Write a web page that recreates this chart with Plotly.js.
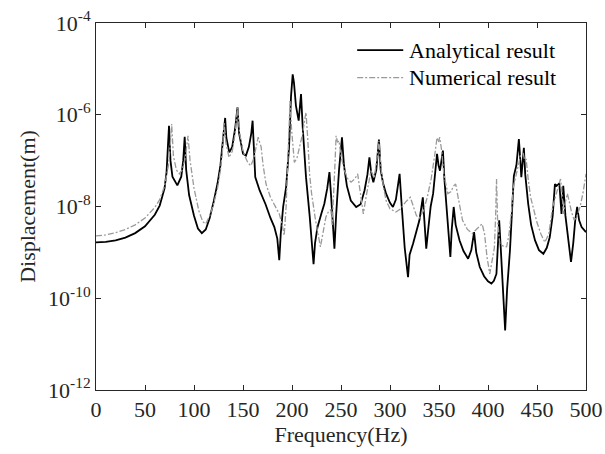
<!DOCTYPE html>
<html>
<head>
<meta charset="utf-8">
<script src="https://cdn.plot.ly/plotly-3.0.1.min.js"></script>
<style>html,body{margin:0;padding:0;background:#fff;}#chart{width:605px;height:454px;}</style>
</head>
<body>
<div id="chart"></div>
<script>
// Frequency (Hz) and log10 of displacement (m)
const freqAnalytical = [0,10,20,30,40,50,60,65,70,72,74.5,76,78,83,87,89,90.5,92,95,100,104,108,112,116,120,124,127,129.5,131.8,133,136,139,142,144.4,146,150,153,156,158.5,159.8,161,162.5,167,173,178,182,185,187,188.5,191,194,197,199,200.7,202,204,206.8,208,209.2,211,214.3,218,220.5,222,223.5,226,230,233,236,238.2,240,243.3,245,248,251,253,256,260,265.5,270,274,277,279,281,283,286,288.7,290.5,293,296,300,303,306,308,309.8,312,315,318.4,320,323.5,327,330,333.5,335,337,339,341.5,344,346,348,349.5,351,352.5,354,355.5,357.5,359.5,361.6,363,365,367,371,375,379.7,383,385.8,388,391.6,396,400,403.5,406,408.6,410,411.4,413,415,417.5,419.5,422.4,424.5,426.4,429,431.5,433,434,435.5,436.6,438,441,444,448,452,456.5,460,463,466,468.3,470,472.8,475,476.8,479,482,484.7,487,489,491,493,495.5,500];
const logDispAnalytical = [-8.78,-8.77,-8.74,-8.68,-8.58,-8.43,-8.18,-7.98,-7.6,-7.25,-6.24,-7.0,-7.35,-7.54,-7.35,-7.0,-6.48,-7.2,-7.75,-8.2,-8.48,-8.58,-8.5,-8.25,-7.9,-7.5,-7.1,-6.6,-6.07,-6.5,-6.82,-6.7,-6.3,-5.84,-6.4,-6.85,-6.89,-6.7,-6.4,-6.13,-6.8,-7.36,-7.65,-7.95,-8.25,-8.45,-8.7,-9.17,-8.6,-8.0,-7.58,-6.7,-5.6,-5.12,-5.3,-5.8,-6.13,-5.9,-5.55,-6.3,-7.36,-8.2,-8.8,-9.26,-8.8,-8.45,-8.15,-7.94,-7.6,-7.25,-7.8,-8.92,-8.2,-7.2,-6.49,-7.1,-7.55,-7.87,-8.01,-7.95,-7.65,-7.3,-6.93,-7.3,-7.47,-7.2,-6.54,-7.2,-7.5,-7.72,-7.92,-8.01,-7.85,-7.6,-7.29,-8.0,-8.9,-9.54,-9.05,-8.81,-8.5,-8.3,-7.8,-8.4,-8.92,-8.5,-8.0,-7.72,-7.3,-6.85,-7.1,-7.22,-7.0,-6.78,-7.4,-7.94,-8.6,-9.1,-8.5,-8.01,-8.4,-8.74,-8.97,-9.14,-8.95,-8.56,-9.0,-9.32,-9.52,-9.63,-9.68,-9.62,-9.47,-9.0,-8.3,-8.9,-9.6,-10.7,-9.8,-8.96,-8.1,-7.33,-7.1,-6.53,-7.0,-7.36,-7.0,-6.72,-7.3,-7.94,-8.4,-8.74,-8.95,-9.03,-8.9,-8.67,-8.2,-7.51,-7.55,-7.5,-8.16,-7.55,-8.2,-8.8,-9.21,-8.8,-8.3,-8.01,-8.3,-8.45,-8.56];

const freqNumerical = [0,10,20,30,40,50,60,65,70,74,76,77.2,79,82,85,88,91,93.9,96,100,105,109,112,116,120,124,127,129,130.7,132.5,135.7,139,142,144.4,146.5,150,155,158,161,163.5,165.5,167,168.5,170.5,173.5,178,183,187,190,192,194,196,197.2,198,199.5,202.4,205,208,211,213,214.3,216,218,220,224,229,232,234.6,237.5,239.7,241,242.5,244,245,246.5,248,250,253.6,257,260.3,264,267,270,272.8,275.5,278,280.6,284,286.5,288.7,291,293.5,296,300,306,311,316,320.7,324,327,330,334,338,342,345.5,348,349.5,350.7,352.5,355,359,362,365,367,369.5,374,379,384,388,391.5,394,396.5,399,401.8,404,406.5,407.8,408.7,409.8,412,416,419,421.5,424,425.8,428,431,433,436,437.5,439,441,443.5,446,450,454,458,462,466,470,474,475.5,477,479,481,483,485,488,491,494,497,500];
const logDispNumerical = [-8.64,-8.62,-8.57,-8.5,-8.4,-8.25,-8.02,-7.85,-7.55,-7.1,-6.6,-6.2,-6.9,-7.2,-7.29,-7.2,-6.95,-6.46,-7.0,-7.6,-8.1,-8.33,-8.38,-8.2,-7.95,-7.6,-7.2,-6.8,-6.17,-6.6,-6.93,-6.8,-6.4,-5.84,-6.4,-6.8,-7.05,-7.11,-6.95,-6.7,-6.49,-6.6,-6.7,-7.1,-7.51,-7.8,-8.0,-8.16,-8.4,-8.63,-8.0,-7.0,-6.2,-5.7,-6.3,-7.04,-6.95,-6.7,-6.4,-6.1,-5.95,-6.5,-7.3,-7.72,-8.3,-8.88,-8.5,-8.23,-8.1,-8.07,-8.4,-7.8,-7.0,-6.46,-6.6,-6.57,-6.9,-7.22,-7.4,-7.47,-7.4,-7.29,-7.7,-8.16,-7.8,-7.5,-7.22,-7.36,-7.0,-6.57,-7.2,-7.6,-7.87,-8.05,-8.12,-8.05,-7.9,-7.8,-8.0,-8.2,-8.25,-8.1,-7.8,-7.4,-6.9,-6.5,-6.6,-6.49,-6.75,-7.3,-7.72,-7.68,-7.55,-7.51,-7.8,-8.3,-8.5,-8.59,-8.5,-8.42,-8.38,-8.6,-9.1,-9.47,-9.2,-8.9,-8.2,-7.4,-8.3,-8.81,-8.87,-8.88,-8.6,-8.1,-7.58,-7.4,-7.1,-6.9,-6.85,-7.0,-6.98,-7.4,-7.8,-8.01,-8.35,-8.6,-8.78,-8.6,-8.01,-7.7,-7.4,-7.7,-8.16,-7.9,-7.72,-7.9,-8.1,-8.3,-8.2,-8.0,-7.7,-7.29];

const seriesNames = ['Analytical result', 'Numerical result'];
const xTickVals = [0,50,100,150,200,250,300,350,400,450,500];
const yTickVals = [1e-12,1e-10,1e-8,1e-6,1e-4];
const yTickText = ['10<sup>-12</sup>','10<sup>-10</sup>','10<sup>-8</sup>','10<sup>-6</sup>','10<sup>-4</sup>'];

const toValue = arr => arr.map(v => Math.pow(10, v));
const FONT = 'Liberation Serif, Times New Roman, serif';
const FS = 22;

const lineStyles = [
  {color: '#000000', width: 1.8},
  {color: '#9a9a9a', width: 1.3, dash: '6px,2px,2px,2px'}
];

const traces = [
  {x: freqAnalytical, y: toValue(logDispAnalytical), name: seriesNames[0], mode: 'lines', line: lineStyles[0]},
  {x: freqNumerical, y: toValue(logDispNumerical), name: seriesNames[1], mode: 'lines', line: lineStyles[1]}
];

// legend drawn as paper-positioned samples and texts
const legendRowsY = [0.926, 0.851];
const legendShapes = seriesNames.map((n, i) => ({
  type: 'line', xref: 'paper', yref: 'paper', x0: 0.533, x1: 0.627, y0: legendRowsY[i], y1: legendRowsY[i],
  line: {color: lineStyles[i].color, width: lineStyles[i].width, dash: lineStyles[i].dash || 'solid'}
}));
const legendTexts = seriesNames.map((n, i) => ({
  xref: 'paper', yref: 'paper', x: 0.635, y: legendRowsY[i], xanchor: 'left', yanchor: 'middle',
  text: n, showarrow: false, font: {family: FONT, size: FS, color: '#000000'}
}));

const axisCommon = {
  showline: true, linecolor: '#262626', linewidth: 1, mirror: 'ticks',
  ticks: 'inside', ticklen: 5, tickcolor: '#262626', tickwidth: 1,
  showgrid: false, zeroline: false,
  tickfont: {family: FONT, size: FS, color: '#262626'}
};

const layout = {
  width: 605, height: 454,
  margin: {l: 96, r: 19, t: 23, b: 64},
  paper_bgcolor: '#ffffff', plot_bgcolor: '#ffffff',
  font: {family: FONT, size: FS, color: '#262626'},
  showlegend: false,
  shapes: legendShapes,
  annotations: legendTexts,
  xaxis: Object.assign({}, axisCommon, {
    range: [0, 500], tickvals: xTickVals,
    title: {text: 'Frequency(Hz)', font: {family: FONT, size: FS, color: '#262626'}, standoff: 4}
  }),
  yaxis: Object.assign({}, axisCommon, {
    type: 'log', range: [-12, -4], tickvals: yTickVals, ticktext: yTickText,
    title: {text: 'Displacement(m)', font: {family: FONT, size: FS, color: '#262626'}, standoff: 6}
  })
};

Plotly.newPlot('chart', traces, layout, {displayModeBar: false, staticPlot: true});
</script>
</body>
</html>
